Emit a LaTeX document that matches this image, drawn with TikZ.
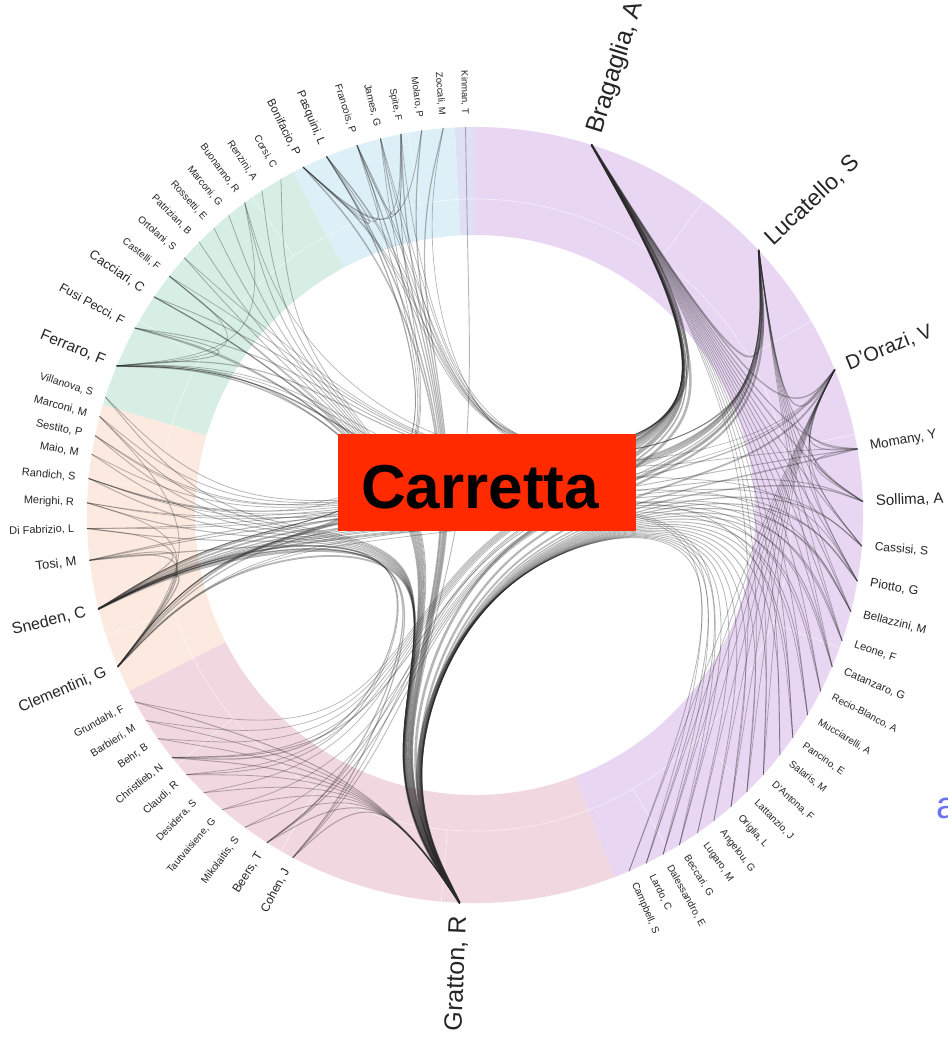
\documentclass[tikz,border=0pt]{standalone}
\usepackage{fontspec}
\setmainfont{Liberation Sans}
\usetikzlibrary{calc}
\definecolor{segP}{HTML}{E8D6F3}
\definecolor{segL}{HTML}{DFE0F5}
\definecolor{segB}{HTML}{DDF0F7}
\definecolor{segG}{HTML}{D6EEE4}
\definecolor{segO}{HTML}{FCEAE0}
\definecolor{segK}{HTML}{F1D7DF}
\definecolor{chordc}{HTML}{2A2A2A}
\definecolor{boxred}{HTML}{FF2A00}
\definecolor{bluetxt}{HTML}{6B72F2}
\tikzset{
  lab/.style={inner sep=1pt, text=black!85},
  chord/.style={draw=chordc, draw opacity=0.34, line cap=round},
  faint/.style={draw=white, draw opacity=0.55, line width=0.7pt},
}
\newcommand\authR[4]{%
  \coordinate (#1) at (#2:388);
  \node[lab, font={\fontsize{#3}{#3}\selectfont}, rotate=#2, anchor=west] (l#1) at (#2:400) {#4};}
\newcommand\authL[4]{%
  \coordinate (#1) at (#2:388);
  \node[lab, font={\fontsize{#3}{#3}\selectfont}, rotate={#2+180}, anchor=east] (l#1) at (#2:400) {#4};}
\newcommand\ringseg[3]{%
  \fill[#3] (#1:388) arc[start angle=#1, end angle=#2, radius=388] -- (#2:280) arc[start angle=#2, end angle=#1, radius=280] -- cycle;}
% bundled chord between groups: A, hubA, hubB, B, width  (basis spline, beta 0.9)
\newcommand\bund[5]{%
  \coordinate (q1) at ($0.9*(#2)+0.075*(#1)+0.025*(#4)$);
  \coordinate (q2) at ($0.05*(#1)+0.05*(#4)$);
  \coordinate (q3) at ($0.9*(#3)+0.025*(#1)+0.075*(#4)$);
  \draw[chord, line width=#5] (#1) -- ($0.8333*(#1)+0.1667*(q1)$)
    .. controls ($0.6667*(#1)+0.3333*(q1)$) and ($0.3333*(#1)+0.6667*(q1)$) .. ($0.1667*(#1)+0.6667*(q1)+0.1667*(q2)$)
    .. controls ($0.6667*(q1)+0.3333*(q2)$) and ($0.3333*(q1)+0.6667*(q2)$) .. ($0.1667*(q1)+0.6667*(q2)+0.1667*(q3)$)
    .. controls ($0.6667*(q2)+0.3333*(q3)$) and ($0.3333*(q2)+0.6667*(q3)$) .. ($0.1667*(q2)+0.6667*(q3)+0.1667*(#4)$)
    .. controls ($0.6667*(q3)+0.3333*(#4)$) and ($0.3333*(q3)+0.6667*(#4)$) .. ($0.1667*(q3)+0.8333*(#4)$)
    -- (#4);}
% bundled chord inside one group: A, hub, B, width
\newcommand\bundS[4]{%
  \coordinate (q1) at ($0.9*(#2)+0.05*(#1)+0.05*(#3)$);
  \draw[chord, line width=#4] (#1) -- ($0.8333*(#1)+0.1667*(q1)$)
    .. controls ($0.6667*(#1)+0.3333*(q1)$) and ($0.3333*(#1)+0.6667*(q1)$) .. ($0.1667*(#1)+0.6667*(q1)+0.1667*(#3)$)
    .. controls ($0.6667*(q1)+0.3333*(#3)$) and ($0.3333*(q1)+0.6667*(#3)$) .. ($0.1667*(q1)+0.8333*(#3)$)
    -- (#3);}
\begin{document}
\begin{tikzpicture}[x=1pt,y=1pt]
\clip (-475,-535) rectangle (473,515);
\fill[white] (-475,-535) rectangle (473,515);
% ring
\ringseg{-69}{90}{segP}
\ringseg{90}{93}{segL}
\ringseg{93}{118}{segB}
\ringseg{118}{163.5}{segG}
\ringseg{163.5}{207}{segO}
\ringseg{207}{291}{segK}
\draw[faint] (0,0) circle (316);
\foreach \a in {54,30,12,-20,-45,-60,100,125,150,175,198,220,240,265}
  \draw[faint] (\a:316) -- (\a:388);
% hubs
\coordinate (hP) at (10.5:315);
\coordinate (hK) at (249:272);
\coordinate (hO) at (185:250);
\coordinate (hG) at (140.8:250);
\coordinate (hB) at (105.5:260);
\coordinate (hL) at (91.5:260);
% authors, purple
\authR{Bragaglia}{72.5}{25}{Bragaglia, A}
\authR{Lucatello}{43}{23}{Lucatello, S}
\authR{DOrazi}{22}{20}{D'Orazi, V}
\authR{Momany}{9.8}{13.5}{Momany, Y}
\authR{Sollima}{2}{15}{Sollima, A}
\authR{Cassisi}{-4.6}{12}{Cassisi, S}
\authR{Piotto}{-9.8}{12.5}{Piotto, G}
\authR{Bellazzini}{-14.4}{11.5}{Bellazzini, M}
\authR{Leone}{-18.9}{11}{Leone, F}
\authR{Catanzaro}{-23}{11}{Catanzaro, G}
\authR{Recio}{-27}{10}{Recio-Blanco, A}
\authR{Mucciarelli}{-31}{10}{Mucciarelli, A}
\authR{Pancino}{-35}{10}{Pancino, E}
\authR{Salaris}{-38.2}{10}{Salaris, M}
\authR{DAntona}{-42}{10}{D'Antona, F}
\authR{Lattanzio}{-45.5}{10}{Lattanzio, J}
\authR{Origlia}{-48.7}{10}{Origlia, L}
\authR{Angelou}{-52}{10}{Angelou, G}
\authR{Lugaro}{-55}{10}{Lugaro, M}
\authR{Beccari}{-58.2}{10}{Beccari, G}
\authR{Dalessandro}{-61}{10}{Dalessandro, E}
\authR{Lardo}{-63.8}{10}{Lardo, C}
\authR{Campbell}{-66.6}{10}{Campbell, S}
% pink
\authL{Gratton}{-92.3}{25}{Gratton, R}
\authL{Cohen}{242}{12}{Cohen, J}
\authL{Beers}{237.6}{12}{Beers, T}
\authL{Mikolaitis}{233.6}{10.5}{Mikolaitis, S}
\authL{Tautvaisiene}{229.4}{10}{Tautvaisiene, G}
\authL{Desidera}{225.7}{10}{Desidera, S}
\authL{Claudi}{222}{10.5}{Claudi, R}
\authL{Christlieb}{218.7}{10.5}{Christlieb, N}
\authL{Behr}{215.2}{10.5}{Behr, B}
\authL{Barbieri}{212}{10.5}{Barbieri, M}
\authL{Grundahl}{208.8}{10.5}{Grundahl, F}
% peach
\authL{Clementini}{203}{15.5}{Clementini, G}
\authL{Sneden}{194}{16}{Sneden, C}
\authL{Tosi}{186.7}{13}{Tosi, M}
\authL{DiFabrizio}{182}{11}{Di Fabrizio, L}
\authL{Merighi}{178.2}{11}{Merighi, R}
\authL{Randich}{174.6}{11}{Randich, S}
\authL{Maio}{171}{11}{Maio, M}
\authL{Sestito}{168.2}{11}{Sestito, P}
\authL{MarconiM}{165.3}{11}{Marconi, M}
\authL{Villanova}{162.3}{10.5}{Villanova, S}
% green
\authL{Ferraro}{157.4}{15.5}{Ferraro, F}
\authL{FusiPecci}{151.2}{12.5}{Fusi Pecci, F}
\authL{Cacciari}{145.8}{13}{Cacciari, C}
\authL{Castelli}{142}{10}{Castelli, F}
\authL{Ortolani}{138.5}{10}{Ortolani, S}
\authL{Patrizian}{135.3}{10}{Patrizian, B}
\authL{Rossetti}{132.3}{10}{Rossetti, E}
\authL{MarconiG}{129.4}{10}{Marconi, G}
\authL{Buonanno}{126.4}{10}{Buonanno, R}
\authL{Renzini}{123.3}{10}{Renzini, A}
\authL{Corsi}{120}{10}{Corsi, C}
% blue
\authL{Bonifacio}{116.3}{11.5}{Bonifacio, P}
\authL{Pasquini}{112.5}{11.5}{Pasquini, L}
\authL{Francois}{107.7}{10}{Francois, P}
\authL{James}{104.1}{10}{James, G}
\authL{Spite}{101}{9.5}{Spite, F}
\authL{Molaro}{97.9}{9.5}{Molaro, P}
\authL{Zoccali}{94.7}{9.5}{Zoccali, M}
\authL{Kinman}{91.4}{9.5}{Kinman, T}
% ---------- chords ----------
% Gratton
\foreach \n/\w in {Bragaglia/2.6,Lucatello/2.2,DOrazi/1.8,Momany/1.3,Sollima/1.3,Cassisi/1.1,Piotto/1.1,Bellazzini/1.1,Leone/1,Catanzaro/1,Recio/.9,Mucciarelli/.9,Pancino/.9,Salaris/.9,DAntona/.9,Lattanzio/.8,Origlia/.8,Angelou/.8,Lugaro/.8,Beccari/.8,Dalessandro/.8,Lardo/.8,Campbell/.8}
  {\bund{Gratton}{hK}{hP}{\n}{\w}}
\foreach \n/\w in {Clementini/1.8,Sneden/2.2,Tosi/1.2,DiFabrizio/1,Merighi/1,Randich/1,Maio/.9,Sestito/.9,MarconiM/.9,Villanova/.9}
  {\bund{Gratton}{hK}{hO}{\n}{\w}}
\foreach \n/\w in {Ferraro/1.4,FusiPecci/1.2,Cacciari/1.2,Castelli/.8,Ortolani/.8,Patrizian/.8,Rossetti/.8,MarconiG/.8,Buonanno/.8,Renzini/.8,Corsi/.8}
  {\bund{Gratton}{hK}{hG}{\n}{\w}}
\foreach \n/\w in {Bonifacio/1.4,Pasquini/1.4,Francois/1.2,James/1.2,Spite/1.2,Molaro/1.2,Zoccali/1.2}
  {\bund{Gratton}{hK}{hB}{\n}{\w}}
\bund{Gratton}{hK}{hL}{Kinman}{.9}
\foreach \n/\w in {Cohen/1,Beers/1,Mikolaitis/.8,Tautvaisiene/.8,Desidera/.8,Claudi/.8,Christlieb/1,Behr/.8,Barbieri/.8,Grundahl/1}
  {\bundS{Gratton}{hK}{\n}{\w}}
% Bragaglia
\foreach \n/\w in {Lucatello/1.8,DOrazi/1.4,Momany/1.1,Sollima/1.1,Cassisi/.9,Piotto/.9,Bellazzini/.9,Leone/.8,Catanzaro/.8,Recio/.8,Mucciarelli/.8,Pancino/.8,Salaris/.7,DAntona/.7,Origlia/.7,Lattanzio/.7}
  {\bundS{Bragaglia}{hP}{\n}{\w}}
\foreach \n/\w in {Sneden/1.8,Clementini/1.4,Tosi/1,DiFabrizio/.8,Merighi/.8,Randich/.8,Maio/.8,Sestito/.8,MarconiM/.8,Villanova/.8}
  {\bund{Bragaglia}{hP}{hO}{\n}{\w}}
\foreach \n/\w in {Ferraro/1.1,FusiPecci/.9,Cacciari/.9,Castelli/.7,Ortolani/.7,Buonanno/.7}
  {\bund{Bragaglia}{hP}{hG}{\n}{\w}}
\foreach \n/\w in {Bonifacio/.8,Pasquini/.8,Francois/.7,James/.7}
  {\bund{Bragaglia}{hP}{hB}{\n}{\w}}
\foreach \n/\w in {Cohen/.8,Beers/.8,Christlieb/.8,Claudi/.7,Desidera/.7,Grundahl/.7,Barbieri/.7,Behr/.7}
  {\bund{Bragaglia}{hP}{hK}{\n}{\w}}
% Lucatello
\foreach \n/\w in {Sneden/1.8,Clementini/1.2,Tosi/.9,DiFabrizio/.7,Merighi/.7,Randich/.7}
  {\bund{Lucatello}{hP}{hO}{\n}{\w}}
\foreach \n/\w in {Christlieb/1,Beers/1,Cohen/.8,Mikolaitis/.7,Tautvaisiene/.7}
  {\bund{Lucatello}{hP}{hK}{\n}{\w}}
\foreach \n/\w in {DOrazi/1.2,Momany/.9,Sollima/.9,Cassisi/.8,Piotto/.8,Bellazzini/.7,Leone/.7,Catanzaro/.7}
  {\bundS{Lucatello}{hP}{\n}{\w}}
\foreach \n/\w in {Spite/.7,Francois/.7,Bonifacio/.7}
  {\bund{Lucatello}{hP}{hB}{\n}{\w}}
% Sneden
\foreach \n/\w in {Christlieb/1.2,Beers/1.2,Cohen/1.2,Claudi/.8}
  {\bund{Sneden}{hO}{hK}{\n}{\w}}
\foreach \n/\w in {Clementini/1.4,Tosi/1}
  {\bundS{Sneden}{hO}{\n}{\w}}
\foreach \n/\w in {DOrazi/1.2,Momany/.9,Piotto/.9,Sollima/.9,Cassisi/.8,Leone/.8,Catanzaro/.8,Recio/.8}
  {\bund{Sneden}{hO}{hP}{\n}{\w}}
\foreach \n/\w in {Spite/.8,Francois/.8,James/.7}
  {\bund{Sneden}{hO}{hB}{\n}{\w}}
% D'Orazi
\foreach \n/\w in {Momany/1,Sollima/1,Piotto/.8,Cassisi/.8,Lardo/.7,Dalessandro/.7,Beccari/.7,Lugaro/.7,Angelou/.7,Campbell/.7,Lattanzio/.7,Origlia/.7,DAntona/.7}
  {\bundS{DOrazi}{hP}{\n}{\w}}
\bund{DOrazi}{hP}{hB}{Pasquini}{.6}
\bund{DOrazi}{hP}{hO}{Randich}{.6}
% Clementini
\foreach \n/\w in {Tosi/1,DiFabrizio/.9,Merighi/.8,MarconiM/.8}
  {\bundS{Clementini}{hO}{\n}{\w}}
\foreach \n/\w in {Ferraro/1,Cacciari/1,FusiPecci/.8,Castelli/.7}
  {\bund{Clementini}{hO}{hG}{\n}{\w}}
\foreach \n/\w in {Bellazzini/.8,Mucciarelli/.7}
  {\bund{Clementini}{hO}{hP}{\n}{\w}}
% Ferraro
\foreach \n/\w in {FusiPecci/.9,Castelli/.7,Buonanno/.7}
  {\bundS{Ferraro}{hG}{\n}{\w}}
\foreach \n/\w in {Bellazzini/.7,Pancino/.7,Dalessandro/.7,Beccari/.7,Lardo/.7}
  {\bund{Ferraro}{hG}{hP}{\n}{\w}}
% top group and others
\foreach \n/\w in {Pasquini/.9,Molaro/.9,Francois/.7,Spite/.7}
  {\bundS{Bonifacio}{hB}{\n}{\w}}
\bundS{Francois}{hB}{Spite}{.8}
\foreach \n/\w in {Randich/.7,Sestito/.7}
  {\bund{Pasquini}{hB}{hO}{\n}{\w}}
\bund{Zoccali}{hB}{hP}{Piotto}{.7}
\bund{James}{hB}{hP}{Momany}{.7}
\bundS{Momany}{hP}{Sollima}{.8}
% Carretta box
\node[fill=boxred, minimum width=298, minimum height=97, inner sep=0pt] (box) at (12,32.5) {};
\node[font={\fontsize{62}{62}\selectfont\bfseries}, text=black, inner sep=0pt] (carretta) at (5,28) {Carretta};
% cut-off blue text at right edge
\node[font={\fontsize{38}{38}\selectfont}, text=bluetxt, anchor=base west, inner sep=0pt] (cut) at (461,-303) {a};
\end{tikzpicture}
\end{document}
